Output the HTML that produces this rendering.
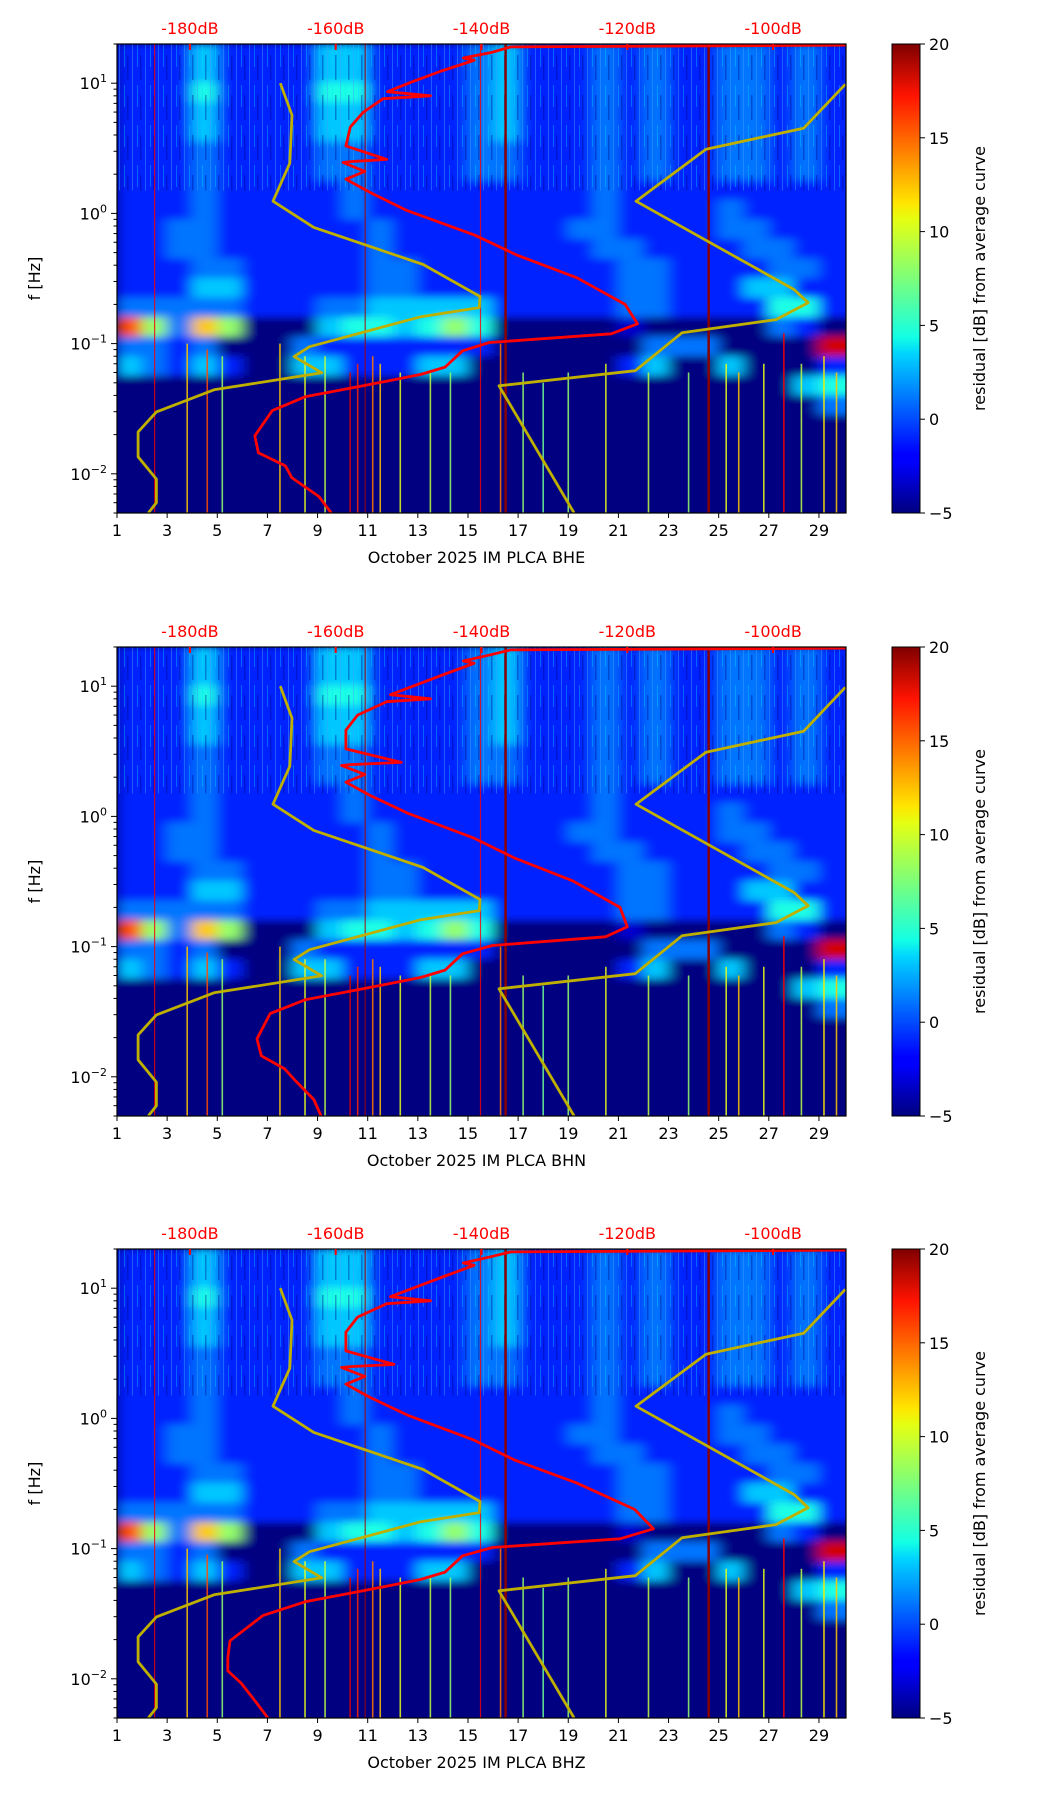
<!DOCTYPE html>
<html><head><meta charset="utf-8"><style>
html,body{margin:0;padding:0;background:#fff;}
svg{display:block;font-family:"DejaVu Sans","Liberation Sans",sans-serif;}
</style></head><body>
<svg id="fig" width="1052" height="1806" viewBox="0 0 1052 1806" xmlns="http://www.w3.org/2000/svg">
<defs>
<filter id="blur" x="-5%" y="-5%" width="110%" height="110%"><feGaussianBlur stdDeviation="7 4"/></filter>
<pattern id="streaks" x="0" y="0" width="13" height="40" patternUnits="userSpaceOnUse">
<rect x="2" y="0" width="1" height="40" fill="#40a0ff" opacity="0.45"/>
<rect x="7" y="5" width="1" height="22" fill="#00e0ff" opacity="0.35"/>
<rect x="10" y="15" width="1.5" height="25" fill="#000080" opacity="0.35"/>
</pattern>
<linearGradient id="jet" x1="0" y1="1" x2="0" y2="0">
<stop offset="0" stop-color="#00007f"/><stop offset="0.11" stop-color="#0000ff"/><stop offset="0.125" stop-color="#0000ff"/>
<stop offset="0.34" stop-color="#00d4ff"/><stop offset="0.375" stop-color="#13ffe4"/><stop offset="0.5" stop-color="#7dff7a"/>
<stop offset="0.625" stop-color="#e4ff13"/><stop offset="0.66" stop-color="#ffe600"/><stop offset="0.89" stop-color="#ff1300"/><stop offset="1" stop-color="#7f0000"/>
</linearGradient>
</defs>
</svg>
<script>
// ---- data ----
const levelValues = [-5,-3,-1,1,3,5,8,12,15,18]; // residual dB per grid character
const gridRows = [
"222422224422223422232322332322",
"222422224422223422232322332322",
"222522225522223422232322332322",
"222422224422223422232322332322",
"222422224422223422232322332322",
"222322223322223322232322332322",
"222322223322223322232322332322",
"222322222322222222232222222222",
"222322222322222222232222322222",
"223322222232222222332222332222",
"223322222232222222233222233222",
"222332222233222222223322223322",
"222442222233222222223322244222",
"333332223344444222223322225522",
"863760004554565000001000003200",
"332300032222222000000333000099",
"432420044222440000002400400022",
"000000000000000000000000000455",
"000000000000000000000000000033",
"000000000000000000000000000000",
"000000000000000000000000000000",
"000000000000000000000000000000",
"000000000000000000000000000000",
"000000000000000000000000000000"];
const spikeDays = [2.5,3.8,4.6,5.2,7.5,8.5,9.3,10.3,10.6,10.9,11.2,11.5,12.3,13.5,14.3,15.5,16.3,17.2,18.0,19.0,20.5,22.2,23.8,25.3,25.8,26.8,27.6,28.3,29.2,29.7];
const spikeValues = [17,12,15,8,12,10,9,18,16,19,14,12,10,9,8,17,14,8,7,8,10,9,8,10,12,10,17,9,11,12];
const spikeTopFreq = [20,0.1,0.09,0.08,0.1,0.08,0.08,0.06,0.07,20,0.08,0.07,0.06,0.06,0.06,20,0.1,0.06,0.05,0.06,0.07,0.06,0.06,0.07,0.06,0.07,0.12,0.07,0.08,0.06];
const darkLineDays = [16.5,24.6];
const nlnmFreq = [10,5.68,2.43,1.24,0.78,0.405,0.23,0.189,0.161,0.0946,0.0794,0.0597,0.0442,0.0299,0.021,0.0135,0.0091,0.006,0.005];
const nlnmDb = [-167.6,-166.0,-166.3,-168.6,-163.0,-148.0,-140.2,-140.3,-148.3,-163.6,-165.7,-161.9,-176.7,-184.6,-187.1,-187.1,-184.6,-184.6,-185.7];
const nhnmFreq = [9.8,4.51,3.11,1.24,0.26,0.206,0.153,0.121,0.0619,0.0474,0.005];
const nhnmDb = [-90.1,-95.8,-109.2,-118.8,-97.1,-95.2,-99.6,-112.5,-118.9,-137.6,-127.3];
const redFreq = [19.6,19.0,17.3,15.6,15.0,12.4,10.2,8.6,8.0,7.6,6.0,4.6,3.3,2.6,2.5,2.46,2.1,1.83,1.45,1.05,0.68,0.48,0.32,0.2,0.142,0.119,0.102,0.088,0.066,0.058,0.047,0.039,0.0306,0.0196,0.0145,0.0115,0.0093,0.0067,0.005];
const redDbE = [-90,-136,-138.5,-142.5,-141,-145.5,-149.6,-152.9,-147,-153.5,-156.2,-158.0,-158.6,-153,-158,-159.0,-156,-158.6,-155.3,-150.2,-140.9,-135.2,-126.9,-120.3,-118.6,-122.2,-138.9,-142.6,-145.0,-148.3,-156.6,-164.2,-168.7,-171.1,-170.6,-166.9,-166.0,-162.3,-160.6];
const redDbN = [-90,-136,-139,-142.5,-141,-145,-149,-152.5,-147,-153,-157,-158.6,-158.6,-151,-158,-159.2,-156,-158.6,-155.3,-150.0,-141,-135.5,-127.5,-121,-120,-123,-138.5,-142.6,-145.0,-148.3,-156.6,-164.2,-169,-170.8,-170.2,-167,-165.5,-163,-162];
const redDbZ = [-90,-136,-139,-142.5,-141,-145,-149,-152.5,-147,-153,-157,-158.6,-158.6,-152,-158,-159.2,-156,-158.6,-155.3,-150.0,-141,-135.5,-127.0,-119,-116.4,-121,-138.5,-142.6,-145.0,-148.3,-156.6,-164.2,-170,-174.5,-174.8,-174.8,-173,-171,-169.3];
const dbTicks = [-180,-160,-140,-120,-100];
const dayTicks = [1,3,5,7,9,11,13,15,17,19,21,23,25,27,29];
const cbTicks = [-5,0,5,10,15,20];
const panels = [{top:44,ch:"BHE",red:redDbE},{top:647,ch:"BHN",red:redDbN},{top:1249,ch:"BHZ",red:redDbZ}];

// ---- helpers ----
const NS="http://www.w3.org/2000/svg";
const svg=document.getElementById('fig');
function mk(tag,attrs,parent){const e=document.createElementNS(NS,tag);for(const k in attrs)e.setAttribute(k,attrs[k]);(parent||svg).appendChild(e);return e;}
const L=117,R=846,H=469,FMAX=20,FMIN=0.005;
const xS=d=>L+(d-1)*25.07;
const dbS=db=>L+(db+190)*7.29;
function yS(top,f){return top+(Math.log10(FMAX)-Math.log10(f))/(Math.log10(FMAX)-Math.log10(FMIN))*H;}
function jet(v){let t=(v+5)/25;t=Math.max(0,Math.min(1,t));
 const r=Math.max(0,Math.min(1,Math.min(4*t-1.5,-4*t+4.5)));
 const g=Math.max(0,Math.min(1,Math.min(4*t-0.5,-4*t+3.5)));
 const b=Math.max(0,Math.min(1,Math.min(4*t+0.5,-4*t+2.5)));
 return `rgb(${Math.round(r*255)},${Math.round(g*255)},${Math.round(b*255)})`;}

panels.forEach((p,pi)=>{
 const top=p.top;
 const g=mk('g',{});
 
 
 const cp=mk('clipPath',{id:'clip'+pi},g);mk('rect',{x:L,y:top,width:R-L,height:H},cp);
 const plot=mk('g',{'clip-path':`url(#clip${pi})`},g);
 
 
 mk('rect',{x:L,y:top,width:R-L,height:H,fill:'#00007f'},plot);
 const hm=mk('g',{filter:'url(#blur)'},plot);
 const nr=gridRows.length,rh=H/nr;
 gridRows.forEach((row,ri)=>{for(let c=0;c<row.length;c++){
  const cell=mk('rect',{x:xS(c+1)-0.5,y:top+ri*rh-0.5,width:25.07+1,height:rh+1,fill:jet(levelValues[+row[c]])},hm);
  
  
 }});
 const tex=mk('rect',{x:L,y:top,width:R-L,height:yS(top,1.5)-top,fill:'url(#streaks)'},plot);
 
 
 spikeDays.forEach((d,i)=>{
  const yt=yS(top,spikeTopFreq[i]);
  const full=spikeTopFreq[i]>=20;
  const s=mk('rect',{x:xS(d)-(full?0.6:0.8),y:yt,width:full?1.2:1.6,height:top+H-yt,fill:jet(spikeValues[i]),opacity:full?0.8:0.85},plot);
  
  
 });
 darkLineDays.forEach(d=>{
  const s=mk('rect',{x:xS(d)-1.2,y:top,width:2.4,height:H,fill:'#8b0000'},plot);
  
  
 });
 const line=(fr,db,col,w,name)=>{
  const pts=fr.map((f,i)=>`${dbS(db[i]).toFixed(1)},${yS(top,f).toFixed(1)}`).join(' ');
  const pl=mk('polyline',{points:pts,fill:'none',stroke:col,'stroke-width':w,'stroke-linejoin':'round'},plot);
  
  
 };
 line(nlnmFreq,nlnmDb,'#bfb000',2.8,'nlnm-curve');
 line(nhnmFreq,nhnmDb,'#bfb000',2.8,'nhnm-curve');
 line(redFreq,p.red,'#ff0000',2.8,'average-psd-curve');
 mk('rect',{x:L,y:top,width:R-L,height:H,fill:'none',stroke:'#000','stroke-width':1.2},g);
 dbTicks.forEach(db=>{
  const x=dbS(db);
  mk('line',{x1:x,y1:top,x2:x,y2:top+6,stroke:'#ff0000','stroke-width':2},g);
  const t=mk('text',{x:x,y:top-10,'font-size':16,fill:'#ff0000','text-anchor':'middle'},g);
  t.textContent=db+'dB';
  
  
 });
 dayTicks.forEach(d=>{
  const x=xS(d);
  mk('line',{x1:x,y1:top+H,x2:x,y2:top+H+5,stroke:'#000','stroke-width':1},g);
  const t=mk('text',{x:x,y:top+H+23,'font-size':16,'text-anchor':'middle',fill:'#000'},g);
  t.textContent=d;
  
  
 });
 const xl=mk('text',{x:(L+R)/2-5,y:top+H+50,'font-size':16,'text-anchor':'middle',fill:'#000','xml:space':'preserve'},g);
 xl.textContent='October 2025 IM PLCA  '+p.ch;
 
 
 for(let e=-3;e<=1;e++){for(let m=1;m<10;m++){
  const f=m*Math.pow(10,e); if(f<FMIN||f>FMAX)continue;
  const y=yS(top,f);
  mk('line',{x1:L,y1:y,x2:L-(m===1?6:3.5),y2:y,stroke:'#000','stroke-width':1},g);
  if(m===1){
   const t=mk('text',{x:L-10,y:y+6,'font-size':16,'text-anchor':'end',fill:'#000'},g);
   
   
   t.innerHTML=`10<tspan font-size="11" dy="-7">${e<0?'\u2212'+(-e):e}</tspan>`;
  }
 }}
 const yl=mk('text',{x:0,y:0,'font-size':16,'text-anchor':'middle',fill:'#000',transform:`translate(40,${top+H/2}) rotate(-90)`},g);
 yl.textContent='f [Hz]';
 
 
 const cb=mk('rect',{x:892,y:top,width:28,height:H,fill:'url(#jet)',stroke:'#000','stroke-width':1},g);
 
 
 cbTicks.forEach(v=>{
  const y=top+(20-v)/25*H;
  mk('line',{x1:920,y1:y,x2:925,y2:y,stroke:'#000','stroke-width':1},g);
  const t=mk('text',{x:929,y:y+6,'font-size':16,fill:'#000'},g);
  t.textContent=v<0?'\u2212'+(-v):v;
  
  
 });
 const cl=mk('text',{x:0,y:0,'font-size':16,'text-anchor':'middle',fill:'#000',transform:`translate(985,${top+H/2}) rotate(-90)`},g);
 cl.textContent='residual [dB] from average curve';
 
 
});
</script>
</body></html>
